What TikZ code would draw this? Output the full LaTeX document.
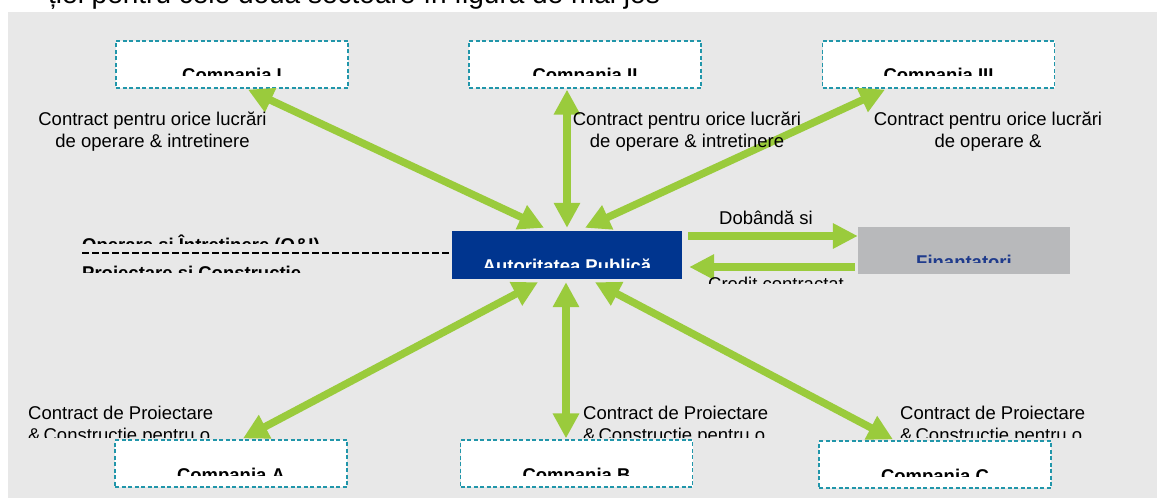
\documentclass[tikz,border=0pt]{standalone}
\usepackage{fontspec}
\setmainfont{Liberation Sans}
\usetikzlibrary{arrows.meta,positioning}
\definecolor{fundal}{RGB}{232,232,232}
\definecolor{verde}{RGB}{154,203,60}
\definecolor{turcoaz}{RGB}{33,150,170}
\definecolor{albastru}{RGB}{0,53,143}
\definecolor{gri}{RGB}{184,185,187}
\definecolor{bleumarin}{RGB}{31,59,140}
\newcommand{\txt}{\fontsize{18.5}{22}\selectfont}
\newcommand{\gros}{\bfseries\fontsize{18.5}{22}\selectfont}
\tikzset{
  firma/.style={draw=turcoaz,fill=white,line width=1.2pt,dash pattern=on 4pt off 2.5pt,
    minimum width=232pt,minimum height=47pt,inner sep=0pt},
  % text cut at the bottom, as in the original slide
  taiat/.style 2 args={path picture={
      \clip ([yshift=12pt]path picture bounding box.south west) rectangle (path picture bounding box.north east);
      \node[anchor=base,inner sep=0pt,font=\gros,text=#1] at ([yshift=-17.5pt]path picture bounding box.center) {#2};}},
  lbl/.style={font=\txt,inner sep=0pt,align=center},
  dublu/.style={verde,line width=7.5pt,{Triangle[length=25pt,width=25pt]}-{Triangle[length=25pt,width=25pt]}},
  simplu/.style={verde,line width=8pt,-{Triangle[length=25pt,width=24pt]}}
}
\begin{document}
\begin{tikzpicture}[x=1pt,y=-1pt]
  \fill[white] (0,0) rectangle (1157,500);
  \useasboundingbox (0,0) rectangle (1157,500);
  \node[anchor=base west,inner sep=0pt,font=\fontsize{28}{30}\selectfont] (titlu) at (48,3.5) {ției pentru cele două sectoare în figura de mai jos};
  \fill[fundal] (8,12) rectangle (1157,498);

  % companii
  \node[firma,taiat={black}{Compania I}] (cI) at (232,64.5) {};
  \node[firma,taiat={black}{Compania II}] (cII) at (585,64.5) {};
  \node[firma,taiat={black}{Compania III}] (cIII) at (938.5,64.5) {};
  \node[firma,taiat={black}{Compania A}] (cA) at (231,463.5) {};
  \node[firma,taiat={black}{Compania B}] (cB) at (576.5,463.5) {};
  \node[firma,taiat={black}{Compania C}] (cC) at (935,464.5) {};
  \node[fill=albastru,minimum width=230pt,minimum height=48pt,inner sep=0pt,
    taiat={white}{Autoritatea Publică}] (ap) at (567,255) {};
  \node[fill=gri,minimum width=212pt,minimum height=47pt,inner sep=0pt,
    taiat={bleumarin}{Finantatori}] (fin) at (964,250.5) {};

  % linia O&I / P&C
  \coordinate (st) at (82,253);
  \draw[black,line width=2pt,dash pattern=on 7pt off 3pt] (st) -- (st -| ap.west);
  \begin{scope}
    \clip (70,225) rectangle (460,243.3);
    \node[anchor=base west,inner sep=0pt,font=\gros] (oi) at (82,251.5) {Operare si Întretinere (O\&I)};
  \end{scope}
  \begin{scope}
    \clip (70,258) rectangle (460,272);
    \node[anchor=base west,inner sep=0pt,font=\gros] (pc) at (82,279) {Proiectare si Constructie};
  \end{scope}

  % sageti
  \foreach \c/\cx/\px in {cI/16/-23,cII/-18/0,cIII/-53.5/18}
    \draw[dublu] ([xshift=\cx pt,yshift=-1pt]\c.south) -- ([xshift=\px pt,yshift=3pt]ap.north);
  \foreach \c/\cx/\px in {cA/12/-29,cB/-10.5/-1,cC/-42/28}
    \draw[dublu] ([xshift=\px pt,yshift=-3pt]ap.south) -- ([xshift=\cx pt,yshift=1pt]\c.north);
  \draw[simplu] ([xshift=6pt,yshift=19pt]ap.east) -- ([yshift=14.5pt]fin.west);
  \draw[simplu] ([xshift=-3pt,yshift=-16.5pt]fin.west) -- ([xshift=7pt,yshift=-12pt]ap.east);

  % etichete
  \node[lbl,anchor=north] (e1) at (152.5,111.3) {Contract pentru orice lucrări\\de operare \& intretinere};
  \node[lbl,anchor=north] (e2) at (687,111.3) {Contract pentru orice lucrări\\de operare \& intretinere};
  \node[lbl,anchor=north] (e3) at (988,111.3) {Contract pentru orice lucrări\\de operare \&};
  \node[lbl,anchor=base] (dob) at (766,224) {Dobândă si};
  \begin{scope}
    \clip (690,270) rectangle (860,283.5);
    \node[lbl,anchor=base] (cred) at (776,290) {Credit contractat};
  \end{scope}
  \foreach \x/\n in {28/pA,583/pB,900/pC}{
    \begin{scope}
      \clip (\x-8,395) rectangle (\x+240,437);
      \node[lbl,align=left,anchor=north west] (\n) at (\x,406) {Contract de Proiectare\\\&\,Constructie pentru o};
    \end{scope}}
\end{tikzpicture}
\end{document}
